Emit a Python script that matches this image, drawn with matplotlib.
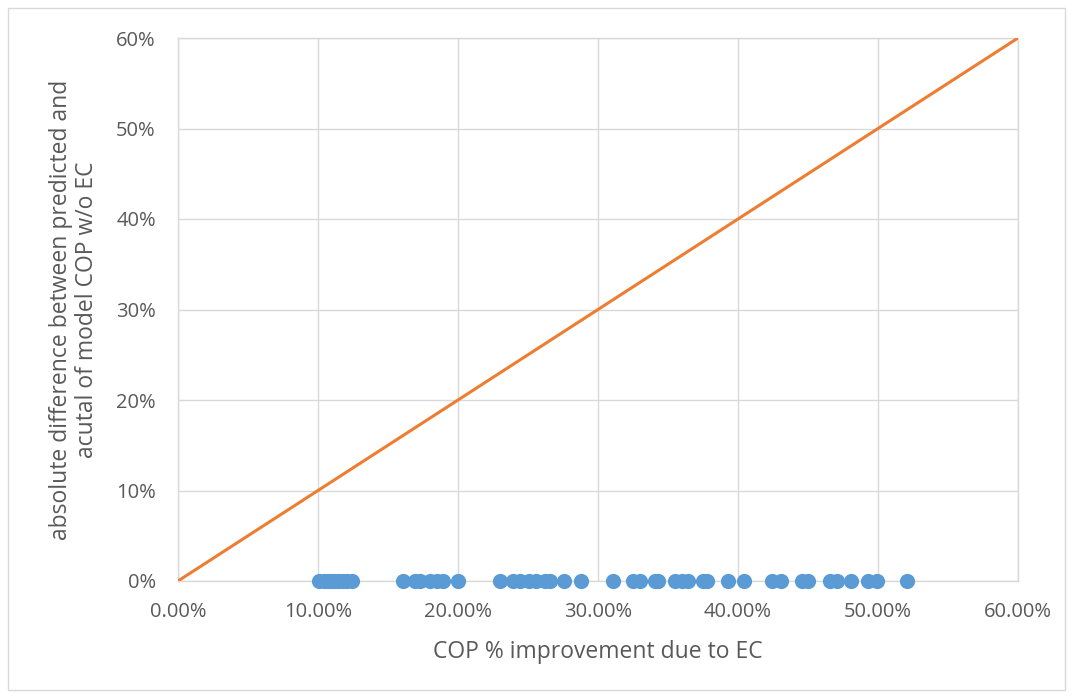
import matplotlib
matplotlib.use("Agg")
import matplotlib.pyplot as plt
from matplotlib.ticker import FuncFormatter
from matplotlib.patches import Rectangle

plt.rcParams['font.family'] = ['Open Sans', 'DejaVu Sans']

# COP improvement due to EC (fraction) and the absolute difference (all zero)
improvement = [0.101, 0.104, 0.107, 0.110, 0.112, 0.115, 0.118, 0.121, 0.124,
               0.161, 0.169, 0.173, 0.180, 0.185, 0.189, 0.200,
               0.230, 0.239, 0.244, 0.251, 0.256, 0.262, 0.266, 0.276, 0.288,
               0.311, 0.325, 0.330, 0.341, 0.343, 0.355, 0.360, 0.364, 0.375,
               0.378, 0.393, 0.404, 0.424, 0.431, 0.446, 0.450, 0.466, 0.471,
               0.481, 0.493, 0.499, 0.521]
abs_difference = [0.0] * len(improvement)
reference_line_x = [0.0, 0.6]
reference_line_y = [0.0, 0.6]

grey = '#595959'
grid_c = '#d9d9d9'

fig = plt.figure(figsize=(10.73, 6.96), dpi=100)
fig.patches.append(Rectangle((8 / 1073, 1 - 690 / 696), (1065 - 8) / 1073, (690 - 8) / 696,
                             transform=fig.transFigure, fill=False,
                             edgecolor=grid_c, linewidth=1))
ax = fig.add_axes([178 / 1073, 1 - 581 / 696, (1018 - 178) / 1073, (581 - 38) / 696])

ax.scatter(improvement, abs_difference, s=120, color='#5B9BD5', zorder=3,
           clip_on=False, linewidths=0)
ax.plot(reference_line_x, reference_line_y, color='#ED7D31', linewidth=2.2,
        zorder=4, solid_capstyle='butt')

ax.set_xlim(0, 0.6)
ax.set_ylim(0, 0.6)
ax.set_xticks([i / 10 for i in range(7)])
ax.set_yticks([i / 10 for i in range(7)])
ax.xaxis.set_major_formatter(FuncFormatter(lambda v, p: f"{v * 100:.2f}%"))
ax.yaxis.set_major_formatter(FuncFormatter(lambda v, p: f"{v * 100:.0f}%"))
ax.grid(True, color=grid_c, linewidth=1)
ax.set_axisbelow(True)
for s in ax.spines.values():
    s.set_color(grid_c)
    s.set_linewidth(1)
ax.tick_params(length=0, labelsize=14.5, colors=grey)
ax.tick_params(axis='y', pad=16)
ax.tick_params(axis='x', pad=15)

ax.set_xlabel('COP % improvement due to EC', fontsize=16.5, color=grey, labelpad=13)
ax.set_ylabel('absolute difference between predicted and\nacutal of model COP w/o EC',
              fontsize=16.5, color=grey, labelpad=12, linespacing=1.15)

fig.savefig('out.png', dpi=100)
